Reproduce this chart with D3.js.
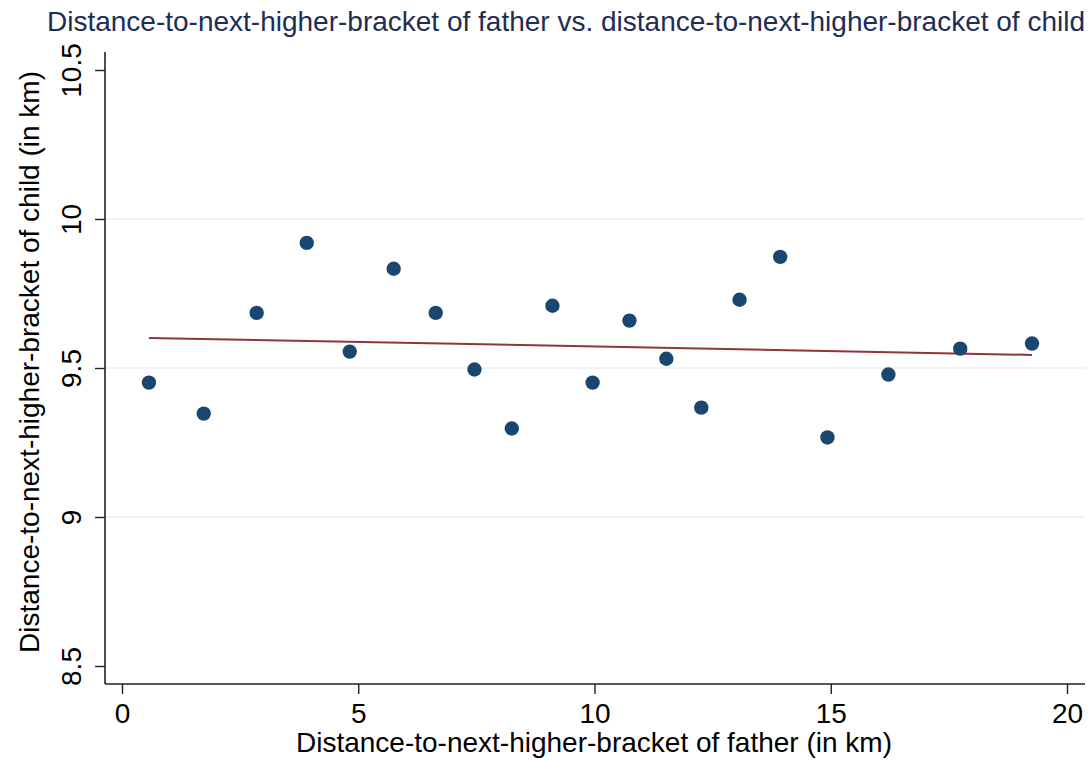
<!DOCTYPE html>
<html>
<head>
<meta charset="utf-8">
<script src="https://cdn.jsdelivr.net/npm/d3@7"></script>
<style>
  body { margin: 0; background: #fff; }
  svg { font-family: "Liberation Sans", Arial, sans-serif; }
</style>
</head>
<body>
<svg width="1090" height="760"></svg>
<script>
// binned means
const fatherDist = [0.57, 1.73, 2.85, 3.91, 4.82, 5.75, 6.64, 7.46, 8.25, 9.11,
                    9.96, 10.74, 11.52, 12.26, 13.07, 13.93, 14.93, 16.22, 17.74, 19.26];
const childDist = [9.451, 9.347, 9.685, 9.92, 9.555, 9.833, 9.685, 9.495, 9.297, 9.709,
                   9.451, 9.659, 9.531, 9.367, 9.729, 9.873, 9.267, 9.478, 9.565, 9.582];
const fitLine = [9.6027, -0.00305]; // intercept, slope
const xTicks = [0, 5, 10, 15, 20];
const yTicks = [8.5, 9, 9.5, 10, 10.5];
const gridTicks = [9, 9.5, 10];

const svg = d3.select("svg");
const x = d3.scaleLinear().domain([0, 20]).range([122, 1067]);
const y = d3.scaleLinear().domain([8.5, 10.5]).range([666, 70]);
const plotL = 105, plotR = 1085, plotT = 52, plotB = 684;
const fs = 28;

// grid
svg.append("g").selectAll("line").data(gridTicks).enter().append("line")
  .attr("x1", plotL).attr("x2", plotR)
  .attr("y1", d => y(d)).attr("y2", d => y(d))
  .attr("stroke", "#eaf2f3").attr("stroke-width", 1.5);

// y axis
const yAxis = svg.append("g").attr("transform", `translate(${plotL},0)`)
  .call(d3.axisLeft(y).tickValues(yTicks).tickSize(10).tickSizeOuter(0).tickFormat(d3.format("")));
yAxis.select(".domain").attr("d", `M0,${plotT}V${plotB}`).attr("stroke", "#222").attr("stroke-width", 1.6);
yAxis.selectAll(".tick line").attr("stroke", "#222").attr("stroke-width", 1.4);
yAxis.selectAll(".tick text")
  .attr("x", null).attr("dy", null)
  .attr("transform", "translate(-24,0) rotate(-90)")
  .attr("text-anchor", "middle")
  .attr("font-size", fs).attr("fill", "#000")
  .attr("font-family", "Liberation Sans, Arial, sans-serif");

// x axis
const xAxis = svg.append("g").attr("transform", `translate(0,${plotB})`)
  .call(d3.axisBottom(x).tickValues(xTicks).tickSize(10).tickSizeOuter(0));
xAxis.select(".domain").attr("d", `M${plotL},0H${plotR}`).attr("stroke", "#222").attr("stroke-width", 1.6);
xAxis.selectAll(".tick line").attr("stroke", "#222").attr("stroke-width", 1.4);
xAxis.selectAll(".tick text")
  .attr("y", 39).attr("dy", null)
  .attr("font-size", fs).attr("fill", "#000")
  .attr("font-family", "Liberation Sans, Arial, sans-serif");

// fit line
const x0 = d3.min(fatherDist), x1 = d3.max(fatherDist);
svg.append("path")
  .datum([x0, x1])
  .attr("d", d3.line().x(d => x(d)).y(d => y(fitLine[0] + fitLine[1] * d)))
  .attr("stroke", "#90353b").attr("stroke-width", 2).attr("fill", "none");

// points
svg.append("g").selectAll("circle").data(fatherDist).enter().append("circle")
  .attr("cx", d => x(d))
  .attr("cy", (d, i) => y(childDist[i]))
  .attr("r", 7.2)
  .attr("fill", "#1a476f");

// titles
svg.append("text").attr("x", 566).attr("y", 31).attr("text-anchor", "middle")
  .attr("font-size", fs).attr("fill", "#1e2d53")
  .text("Distance-to-next-higher-bracket of father vs. distance-to-next-higher-bracket of child");

svg.append("text").attr("x", 594).attr("y", 752).attr("text-anchor", "middle")
  .attr("font-size", fs).attr("fill", "#000")
  .text("Distance-to-next-higher-bracket of father (in km)");

svg.append("text").attr("transform", "translate(39,362) rotate(-90)").attr("text-anchor", "middle")
  .attr("font-size", fs).attr("fill", "#000")
  .text("Distance-to-next-higher-bracket of child (in km)");
</script>
</body>
</html>
